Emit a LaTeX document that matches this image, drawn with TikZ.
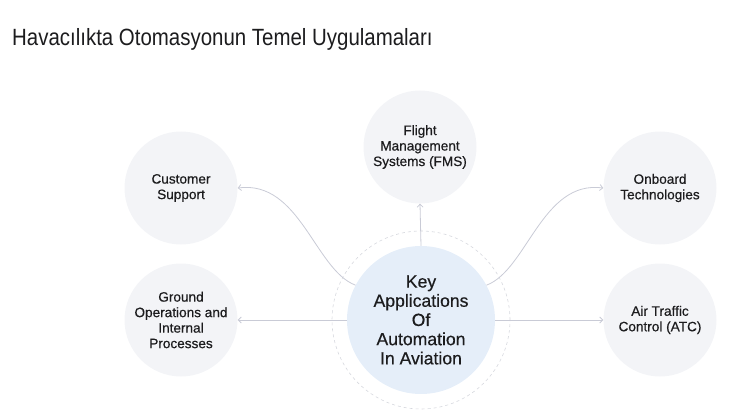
\documentclass[tikz,border=0pt]{standalone}
\usepackage{fontspec}
\setmainfont{Liberation Sans}
\newfontfamily\medsans[FakeBold=0.5]{Liberation Sans}
\usepackage{xcolor}
\usetikzlibrary{arrows.meta,positioning}
\definecolor{appfill}{HTML}{F3F4F7}
\definecolor{hubfill}{HTML}{E5EEF9}
\definecolor{linkgray}{HTML}{C9CBD6}
\definecolor{ringgray}{HTML}{D6D8DE}
\definecolor{inkdark}{HTML}{1C1C1E}

\begin{document}
\begin{tikzpicture}[
  x=1pt, y=-1pt, >={Straight Barb[length=3pt,width=6pt]},
  app/.style={circle, fill=appfill, minimum size=113pt, inner sep=0pt, align=center,
    text=inkdark, font=\medsans\fontsize{13.6}{15.5}\selectfont},
  hub/.style={circle, fill=hubfill, minimum size=148pt, inner sep=0pt, align=center,
    text=inkdark, font=\medsans\fontsize{17.6}{19.2}\selectfont},
  ring/.style={circle, draw=ringgray, dashed, dash pattern=on 3pt off 3pt, line width=0.6pt,
    minimum size=178pt, inner sep=0pt},
  link/.style={draw=linkgray, line width=0.8pt, ->},
]
\useasboundingbox (0,0) rectangle (741,417);
\node[anchor=base west, text=inkdark, font=\fontsize{23.5}{26}\selectfont, inner sep=0pt] (title) at (12,46)
  {\scalebox{0.87}[1]{Havacılıkta Otomasyonun Temel Uygulamaları}};

% centre
\node[ring] (ring) at (421,320) {};
\node[hub] (hub) at (421,320) {Key\\ Applications\\ Of\\ Automation\\ In Aviation};

% the five applications
\node[app] (fms) at (420,147) {Flight\\ Management\\ Systems (FMS)};
\node[app] (cust) at (181,188) {Customer\\ Support};
\node[app] (ground) at (181,320) {Ground\\ Operations and\\ Internal\\ Processes};
\node[app] (onb) at (660,188) {Onboard\\ Technologies};
\node[app] (atc) at (660,320) {Air Traffic\\ Control (ATC)};

\draw[link] (hub.north) -- (fms.south);
\draw[link] (hub.west) -- (ground.east);
\draw[link] (hub.east) -- (atc.west);
\draw[link] (hub.152) .. controls (315,270) and (300,180) .. (cust.east);
\draw[link] (hub.28) .. controls (527,270) and (542,180) .. (onb.west);
\end{tikzpicture}
\end{document}
